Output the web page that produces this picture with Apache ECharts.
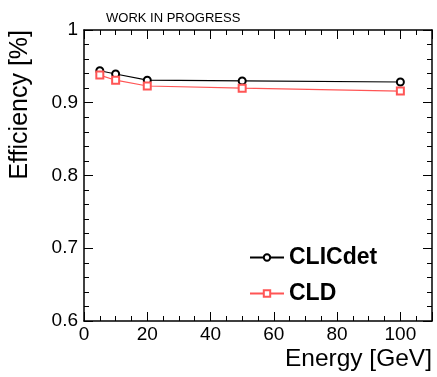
<!DOCTYPE html>
<html><head><meta charset="utf-8">
<script src="https://cdn.jsdelivr.net/npm/echarts@6/dist/echarts.min.js"></script>
<style>html,body{margin:0;padding:0;background:#fff}#c{width:437px;height:377px}</style>
</head><body><div id="c"></div>
<script>
var energies = [5, 10, 20, 50, 100];
var clicdet = [0.944, 0.9395, 0.931, 0.930, 0.9285];
var cld = [0.938, 0.931, 0.923, 0.920, 0.916];
var seriesNames = ['CLICdet', 'CLD'];
var titleText = 'WORK IN PROGRESS';
var xName = 'Energy [GeV]';
var yName = 'Efficiency [%]';

function pairs(xs, ys){ return xs.map(function(x,i){return [x, ys[i]];}); }
var font = 'Liberation Sans, Arial, Helvetica, sans-serif';
var chart = echarts.init(document.getElementById('c'), null, {renderer:'canvas'});
var tickStyle = {color:'#000', width:1};
var baseX = {
  type:'value', min:0, max:110, interval:20,
  axisLine:{show:true, onZero:false, lineStyle:{color:'#000', width:1.5}},
  axisTick:{show:true, inside:true, length:9, lineStyle:tickStyle},
  minorTick:{show:true, splitNumber:4, length:5, lineStyle:tickStyle},
  splitLine:{show:false}
};
var baseY = {
  type:'value', min:0.6, max:1, interval:0.1,
  axisLine:{show:true, onZero:false, lineStyle:{color:'#000', width:1.5}},
  axisTick:{show:true, inside:true, length:9, lineStyle:tickStyle},
  minorTick:{show:true, splitNumber:5, length:5, lineStyle:tickStyle},
  splitLine:{show:false}
};
chart.setOption({
  animation:false,
  backgroundColor:'#fff',
  title:{text:titleText, left:101, top:7, textStyle:{fontFamily:font, fontSize:13, fontWeight:'normal', color:'#000'}},
  grid:{left:84, right:5, top:30, bottom:56, outerBoundsMode:'none', containLabel:false},
  legend:{
    orient:'vertical', left:244, top:241, itemGap:13, itemWidth:34, itemHeight:8,
    textStyle:{fontFamily:font, fontSize:23, fontWeight:'bold', color:'#000'},
    data:seriesNames
  },
  xAxis:[
    Object.assign({}, baseX, {position:'bottom',
      name:xName, nameLocation:'end', nameGap:0,
      nameTextStyle:{fontFamily:font, fontSize:24.5, color:'#000', align:'right', verticalAlign:'top', padding:[26,0,0,0]},
      axisLabel:{fontFamily:font, fontSize:19, color:'#000', margin:4, showMaxLabel:false}}),
    Object.assign({}, baseX, {position:'top', axisLabel:{show:false}})
  ],
  yAxis:[
    Object.assign({}, baseY, {position:'left',
      name:yName, nameLocation:'end', nameGap:0, nameRotate:90,
      nameTextStyle:{fontFamily:font, fontSize:25, color:'#000', align:'right', verticalAlign:'bottom', padding:[0,0,51,0]},
      axisLabel:{fontFamily:font, fontSize:19, color:'#000', margin:6,
        formatter:function(v){ return Math.abs(v-1)<1e-9 ? '1' : v.toFixed(1); }}}),
    Object.assign({}, baseY, {position:'right', axisLabel:{show:false}})
  ],
  series:[
    {name:seriesNames[0], type:'line', data:pairs(energies, clicdet), symbol:'emptyCircle', symbolSize:7,
     itemStyle:{color:'#000', borderWidth:1.5}, lineStyle:{color:'#000', width:1.2}},
    {name:seriesNames[1], type:'line', data:pairs(energies, cld), symbol:'emptyRect', symbolSize:7,
     itemStyle:{color:'#ff5555', borderWidth:1.2}, lineStyle:{color:'#ff5555', width:1.2}}
  ]
});
</script></body></html>
